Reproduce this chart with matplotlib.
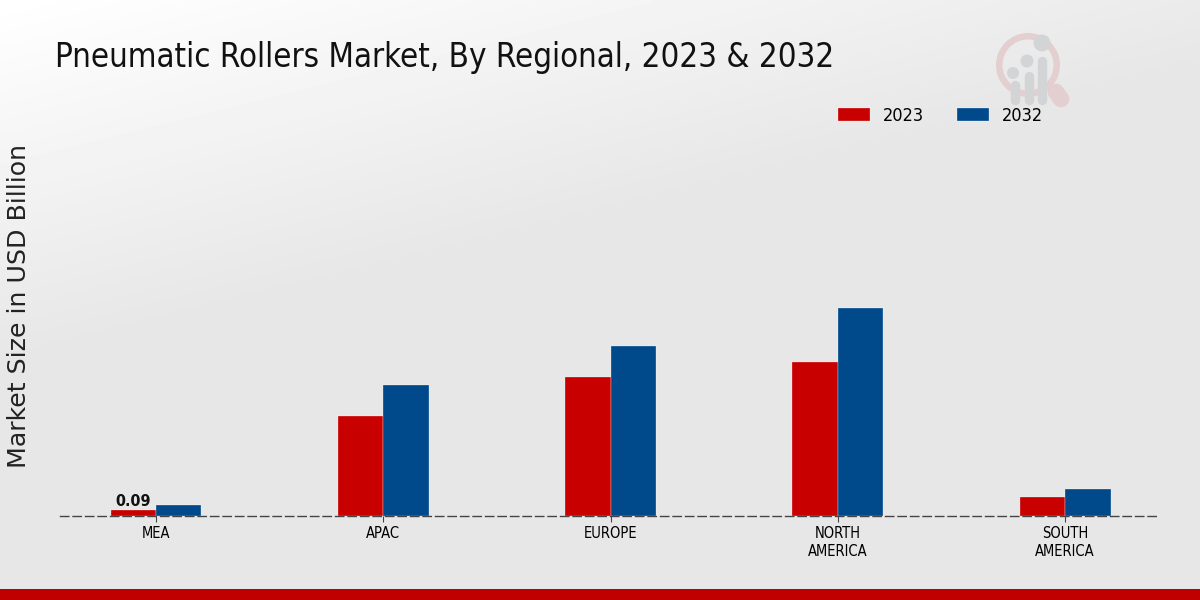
import numpy as np
import matplotlib
matplotlib.use("Agg")
import matplotlib.pyplot as plt
from matplotlib.patches import Wedge, Circle

regions = ["MEA", "APAC", "EUROPE", "NORTH\nAMERICA", "SOUTH\nAMERICA"]
values_2023 = [0.09, 1.50, 2.07, 2.30, 0.28]
values_2032 = [0.16, 1.96, 2.53, 3.11, 0.40]
series_names = ["2023", "2032"]

plt.rcParams["font.family"] = "DejaVu Sans"

fig = plt.figure(figsize=(12, 6), dpi=100)

# background, light top left going to grey
bg = fig.add_axes([0, 0, 1, 1], zorder=0)
xx, yy = np.meshgrid(np.linspace(0, 1, 300), np.linspace(0, 1, 150))
shade = np.clip((xx * 0.5 + yy) / 0.6, 0, 1)
bg.imshow(1.0 - 0.095 * shade, cmap="gray", vmin=0, vmax=1, aspect="auto",
          extent=[0, 1200, 600, 0], interpolation="bilinear")
bg.set_xlim(0, 1200)
bg.set_ylim(600, 0)
bg.axis("off")
bg.fill_between([0, 1200], 589, 600, color="#c00000", lw=0)

# logo
logo = "#e3cfd0"
grey = "#d2d4d6"
bg.add_patch(Wedge((1028, 65), 32, 0, 360, width=6.5, color=logo, lw=0))
bg.plot([1056, 1061], [92, 99], color=logo, lw=12, solid_capstyle="round")
for cx, top, r in [(1013, 73, 6), (1027, 61, 6.5), (1042, 43, 8.5)]:
    bg.add_patch(Circle((cx, top), r, color=grey, lw=0))
for cx, top in [(1014.5, 85), (1028.5, 76), (1042, 61)]:
    bg.plot([cx, cx], [top, 100], color=grey, lw=6.8, solid_capstyle="round")

ax = fig.add_axes([60 / 1200, 84 / 600, 1100 / 1200, 416 / 600], zorder=1)
ax.patch.set_alpha(0)

x = np.arange(len(regions))
width = 0.2
bars1 = ax.bar(x - width / 2, values_2023, width, color="#c80000", edgecolor="white", linewidth=0.2,
               label=series_names[0])
bars2 = ax.bar(x + width / 2, values_2032, width, color="#004a8c", edgecolor="white", linewidth=0.2,
               label=series_names[1])

ax.text(x[0] - width / 2, values_2023[0] + 0.01, f"{values_2023[0]:.2f}", ha="center", va="bottom",
        fontsize=11.5, fontweight="bold", stretch="condensed", color="#111111")

ax.set_xlim(-0.4225, 4.4175)
ax.set_ylim(0, 416 / 67.0)
ax.set_xticks(x)
ax.set_xticklabels(regions, fontsize=10.5, stretch="condensed", linespacing=1.3)
ax.set_yticks([])
ax.tick_params(axis="x", length=4, color="#444444", pad=3)
for side in ["top", "left", "right"]:
    ax.spines[side].set_visible(False)
ax.spines["bottom"].set_linestyle((0, (6, 3)))
ax.spines["bottom"].set_color("#444444")
ax.spines["bottom"].set_linewidth(1)

fig.text(19 / 1200, 1 - 306 / 600, "Market Size in USD Billion", rotation=90, ha="center", va="center",
         fontsize=18.2, color="#222222")
fig.text(55 / 1200, 1 - 58 / 600, "Pneumatic Rollers Market, By Regional, 2023 & 2032", ha="left",
         va="center", fontsize=23.7, stretch="condensed", color="#111111")

fig.legend(handles=[bars1, bars2], labels=series_names, loc="center left",
           bbox_to_anchor=(822 / 1200, 1 - 116 / 600), ncol=2, frameon=False,
           handlelength=1.77, handleheight=0.72, columnspacing=1.79, handletextpad=0.72,
           prop={"size": 13, "stretch": "condensed"})

fig.savefig("out.png", dpi=100)
